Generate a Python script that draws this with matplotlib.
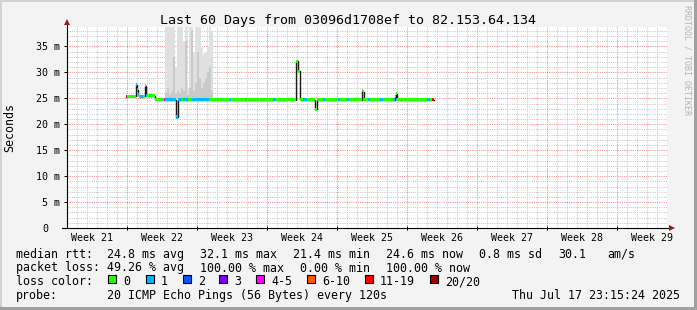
import numpy as np
import matplotlib
matplotlib.use('Agg')
import matplotlib.pyplot as plt
import matplotlib.transforms as mtrans
from matplotlib.patches import Rectangle

W, H = 697, 310
FONT = 'DejaVu Sans Mono'

title = 'Last 60 Days from 03096d1708ef to 82.153.64.134'

# x axis = days since start of the graph (60 days shown)
week_bounds = [6, 13, 20, 27, 34, 41, 48, 55]
week_names = ['Week 21', 'Week 22', 'Week 23', 'Week 24', 'Week 25',
              'Week 26', 'Week 27', 'Week 28', 'Week 29']
week_mid = [2.5, 9.5, 16.5, 23.5, 30.5, 37.5, 44.5, 51.5, 58.5]

y_ticks = [0, 5, 10, 15, 20, 25, 30, 35]
y_names = ['0', '5 m', '10 m', '15 m', '20 m', '25 m', '30 m', '35 m']

# median rtt samples: start day, value in ms, loss class (index in loss_colors)
med_day = [5.90, 6.00, 6.90, 7.00, 7.10, 7.20, 7.30, 7.45, 7.60, 7.80,
           7.90, 8.00, 8.80, 9.70, 9.80, 10.95, 11.10, 11.50, 11.60, 12.10,
           12.50, 14.20, 16.30, 16.40, 17.80, 17.90, 20.60, 20.80, 22.95, 23.15,
           23.32, 23.60, 24.00, 24.85, 25.00, 25.60, 25.80, 27.10, 27.30, 28.00,
           28.20, 29.50, 29.62, 29.72, 30.10, 30.30, 31.30, 31.60, 32.60, 32.85,
           32.95, 33.05, 36.00, 36.30, 36.55]
med_ms = [25.3, 25.4, 27.6, 26.7, 25.7, 25.3, 25.4, 25.3, 25.4, 27.4,
          25.5, 25.5, 24.8, 24.7, 24.7, 21.4, 24.7, 24.7, 24.7, 24.8,
          24.7, 24.7, 24.7, 24.7, 24.7, 24.7, 24.7, 24.7, 32.1, 30.2,
          24.7, 24.7, 24.7, 22.9, 24.7, 24.7, 24.7, 24.7, 24.7, 24.7,
          24.7, 26.5, 26.3, 24.7, 24.7, 24.7, 24.7, 24.7, 24.7, 25.3,
          25.9, 24.7, 24.7, 24.7, 24.7]
med_loss = [6, 0, 1, 1, 1, 0, 1, 1, 0, 0,
            1, 0, 0, 4, 1, 1, 1, 0, 1, 0,
            1, 0, 1, 0, 1, 0, 1, 0, 0, 0,
            0, 1, 0, 0, 0, 1, 0, 1, 0, 1,
            0, 0, 0, 0, 1, 0, 1, 0, 1, 1,
            0, 0, 1, 0, 6]
data_end = 36.67

# smoke (spread of the pings) in the lossy period, two shades
smoke_day = [9.8, 10.0, 10.2, 10.4, 10.6, 10.8, 11.0, 11.2, 11.4, 11.6, 11.8, 12.0,
             12.2, 12.4, 12.6, 12.8, 13.0, 13.2, 13.4, 13.6, 13.8, 14.0, 14.2, 14.4]
smoke_light = [40, 40, 40, 40, 40, 31, 40, 40, 40, 36, 40, 27,
               40, 40, 34, 40, 40, 40, 35, 33.5, 33.8, 35, 40, 38]
smoke_dark = [26, 27, 25.8, 26.5, 33, 25.8, 26.5, 26, 27, 26.5, 36, 25.6,
              27, 38, 26.5, 28, 34, 29, 27, 28, 29, 30, 31, 26.5]
smoke_floor = 24.9

loss_colors = ['#26ff00', '#00b8ff', '#0059ff', '#7e00ff',
               '#ff00ff', '#ff5500', '#ff0000', '#a00000']
loss_names = ['0', '1', '2', '3', '4-5', '6-10', '11-19', '20/20']

rtt_items = ['median rtt:', '24.8 ms avg', '32.1 ms max', '21.4 ms min',
             '24.6 ms now', '0.8 ms sd', '30.1', 'am/s']
pl_items = ['packet loss:', '49.26 % avg', '100.00 % max', '0.00 % min', '100.00 % now']
probe_text = '20 ICMP Echo Pings (56 Bytes) every 120s'
stamp = 'Thu Jul 17 23:15:24 2025'


def fx(px):
    return px / W


def fy(py):
    return 1 - py / H


def draw_grid(ax, top):
    minor_days = [d for d in range(1, 60) if d not in week_bounds]
    minor_ms = [m for m in range(1, 39) if m % 5]
    dots = (0, (1, 1.2))
    lines = [
        ax.vlines(minor_days, 0, top, colors='#c6c6c6', linestyles=dots, lw=0.72, zorder=0),
        ax.hlines(minor_ms, 0, 60, colors='#c6c6c6', linestyles=dots, lw=0.72, zorder=0),
        ax.vlines(week_bounds, 0, top, colors='#f08888', linestyles=dots, lw=0.72, zorder=0),
        ax.hlines(y_ticks[1:], 0, 60, colors='#f08888', linestyles=dots, lw=0.72, zorder=0),
    ]
    for ln in lines:
        ln.set_snap(True)


def draw_data(ax):
    # smoke
    ax.bar(smoke_day, np.array(smoke_light) - smoke_floor, bottom=smoke_floor, width=0.2,
           align='edge', color='#e0e0e0', lw=0, zorder=1)
    ax.bar(smoke_day, np.array(smoke_dark) - smoke_floor, bottom=smoke_floor, width=0.2,
           align='edge', color='#cacaca', lw=0, zorder=1)
    # median line (black) and loss colour band on top
    xs = med_day + [data_end]
    ys = med_ms + [med_ms[-1]]
    ax.step(xs, ys, where='post', color='#1a1a1a', lw=1.0, zorder=2)
    widths = np.diff(xs)
    half = 0.31
    ax.bar(med_day, 2 * half, bottom=np.array(med_ms) - half, width=widths, align='edge',
           color=[loss_colors[l] for l in med_loss], lw=0, zorder=3)


def draw_axes(fig, ax, top):
    for s in ax.spines.values():
        s.set_visible(False)
    ax.plot([-5 / 600.3, 1.006], [0, 0], transform=ax.transAxes, clip_on=False,
            color='black', lw=0.8, zorder=5)
    ax.plot([0, 0], [0, 1.02], transform=ax.transAxes, clip_on=False,
            color='black', lw=0.8, zorder=5)
    ax.plot([1.008], [0], marker='>', ms=4.5, mew=0, color='#a01818',
            transform=ax.transAxes, clip_on=False, zorder=6)
    ax.plot([0], [1.025], marker='^', ms=4.5, mew=0, color='#a01818',
            transform=ax.transAxes, clip_on=False, zorder=6)

    ax.set_yticks(y_ticks, y_names)
    ax.tick_params(axis='y', direction='out', length=2.2, width=0.72, pad=2.7,
                   labelsize=7.2, colors='black')
    for lab in ax.get_yticklabels():
        lab.set_family(FONT)
    zero = ax.get_yticklabels()[0]
    zero.set_transform(zero.get_transform() +
                       mtrans.ScaledTranslation(-12 / 100, 0, fig.dpi_scale_trans))

    ax.set_xticks(week_bounds, [''] * len(week_bounds))
    ax.tick_params(axis='x', direction='inout', length=3, width=0.72)
    tr = mtrans.blended_transform_factory(ax.transData, fig.transFigure)
    for x, name in zip(week_mid, week_names):
        ax.text(x, fy(241), name, transform=tr, ha='center', va='baseline',
                fontsize=7.2, family=FONT)


def draw_legend(fig):
    fs = 8.4
    base = [257.7, 271.5, 285.3, 299.0]
    for txt, x in zip(rtt_items, [16, 107, 200, 293, 386, 479, 558, 607]):
        fig.text(fx(x), fy(base[0]), txt, fontsize=fs, family=FONT, va='baseline')
    for txt, x in zip(pl_items, [16, 107, 200, 300, 386]):
        fig.text(fx(x), fy(base[1]), txt, fontsize=fs, family=FONT, va='baseline')
    fig.text(fx(16), fy(base[2]), 'loss color:', fontsize=fs, family=FONT, va='baseline')
    box_x = [108, 146, 183, 219, 256, 307, 365, 430]
    for bx, col, name in zip(box_x, loss_colors, loss_names):
        fig.add_artist(Rectangle((fx(bx), fy(283)), 8 / W, 8 / H, transform=fig.transFigure,
                                 facecolor=col, edgecolor='black', lw=0.8))
        fig.text(fx(bx + 15), fy(base[2]), name, fontsize=fs, family=FONT, va='baseline')
    fig.text(fx(16), fy(base[3]), 'probe:', fontsize=fs, family=FONT, va='baseline')
    fig.text(fx(107), fy(base[3]), probe_text, fontsize=fs, family=FONT, va='baseline')
    fig.text(fx(680), fy(base[3]), stamp, fontsize=fs, family=FONT, va='baseline', ha='right')


def main():
    fig = plt.figure(figsize=(W / 100, H / 100), dpi=100, facecolor='#f3f3f3')
    # frame
    fig.add_artist(Rectangle((0, 1 - 2 / H), 1, 2 / H, transform=fig.transFigure, color='#d2d2d2', lw=0))
    fig.add_artist(Rectangle((0, 0), 2 / W, 1, transform=fig.transFigure, color='#d2d2d2', lw=0))
    fig.add_artist(Rectangle((1 - 3 / W, 0), 3 / W, 1, transform=fig.transFigure, color='#a0a0a0', lw=0))
    fig.add_artist(Rectangle((0, 0), 1, 3 / H, transform=fig.transFigure, color='#a0a0a0', lw=0))

    ax = fig.add_axes([fx(66.7), 82 / H, 600.3 / W, 201 / H])
    top = 38.75
    ax.set_xlim(0, 60)
    ax.set_ylim(0, top)
    ax.set_facecolor('white')

    draw_grid(ax, top)
    draw_data(ax)
    draw_axes(fig, ax, top)

    fig.text(fx(347.5), fy(24), title, ha='center', va='baseline', fontsize=9.6, family=FONT)
    fig.text(fx(10), fy(127), 'Seconds', rotation=90, ha='center', va='center',
             fontsize=8.4, family=FONT)
    fig.text(fx(687.5), fy(60), 'RRDTOOL / TOBI OETIKER', rotation=270, ha='center',
             va='center', fontsize=6, family=FONT, color='#b4b4b4')
    draw_legend(fig)

    fig.savefig('out.png', dpi=100, facecolor=fig.get_facecolor())


if __name__ == '__main__':
    main()
